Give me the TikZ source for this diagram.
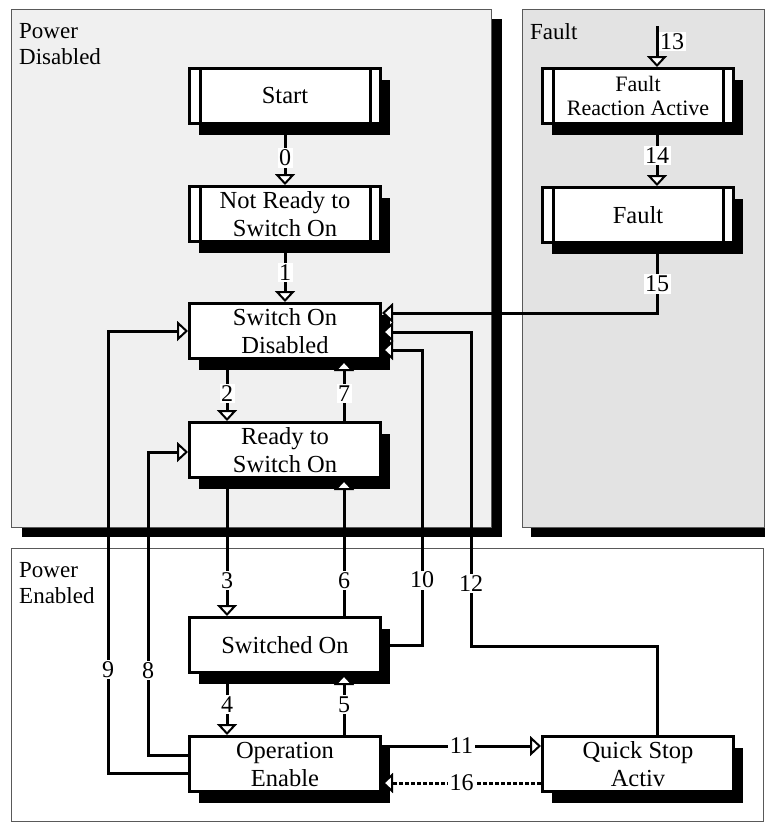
\documentclass[tikz,border=0pt]{standalone}
\usepackage{fontspec}
\setmainfont{Liberation Serif}
\usetikzlibrary{arrows.meta,shadows,positioning,calc}

\tikzset{
  statebox/.style={draw, line width=3pt, fill=white, minimum width=191pt, minimum height=55pt,
    inner sep=0pt, align=center, font=\fontsize{24.5}{28}\selectfont,
    drop shadow={shadow xshift=9pt, shadow yshift=-11pt, opacity=1, fill=black}},
  barbox/.style={statebox, path picture={
    \draw[line width=3pt] ([xshift=11pt]path picture bounding box.north west) -- ([xshift=11pt]path picture bounding box.south west)
      ([xshift=-10pt]path picture bounding box.north east) -- ([xshift=-10pt]path picture bounding box.south east);}},
  trans/.style={line width=3pt, -{Triangle[fill=white, length=11pt, width=20pt, line width=2pt]}},
  lbl/.style={fill=white, inner sep=1.5pt, font=\fontsize{24}{26}\selectfont},
  panel/.style={line width=0.8pt, draw=black!65},
  paneltext/.style={anchor=north west, align=left, inner sep=0pt, font=\fontsize{23}{26}\selectfont}
}

\begin{document}
\begin{tikzpicture}[x=1pt, y=-1pt]
    \useasboundingbox (0,0) rectangle (765,825);
    \clip (0,0) rectangle (765,825);
    % regions
    \path[panel, fill=black!6, drop shadow={shadow xshift=11pt, shadow yshift=-10pt, opacity=1, fill=black}] (11,9) rectangle (491,527);
    \path[panel, fill=black!11, drop shadow={shadow xshift=9pt, shadow yshift=-10pt, opacity=1, fill=black}] (522,9) rectangle (764,527);
    \path[panel, fill=white] (11,548) rectangle (763,821);
    \node[paneltext] (pdis) at (19,23) {Power\\Disabled};
    \node[paneltext] (pflt) at (530,23) {Fault};
    \node[paneltext] (pena) at (19,562) {Power\\Enabled};

    % states
    \node[barbox] (start) at (285,96) {Start};
    \node[barbox] (notready) at (285,214) {Not Ready to\\Switch On};
    \node[statebox] (sod) at (285,331) {Switch On\\Disabled};
    \node[statebox] (rtso) at (285,450) {Ready to\\Switch On};
    \node[statebox] (swon) at (285,645) {Switched On};
    \node[statebox] (opena) at (285,764) {Operation\\Enable};
    \node[statebox] (qstop) at (638,764) {Quick Stop\\Activ};
    \node[barbox, font=\fontsize{22}{24}\selectfont] (fra) at (638,96) {Fault\\Reaction Active};
    \node[barbox] (fault) at (638,215) {Fault};
    \coordinate (in13) at (657,26);

    % transitions
    \draw[trans] (start) -- node[lbl, pos=0.55]{0} (notready);
    \draw[trans] (notready) -- node[lbl]{1} (sod);
    \draw[trans] ([xshift=-58pt]sod.south) -- node[lbl, pos=0.55]{2} ([xshift=-58pt]rtso.north);
    \draw[trans] ([xshift=59pt]rtso.north) -- node[lbl, pos=0.45]{7} ([xshift=59pt]sod.south);
    \draw[trans] ([xshift=-58pt]rtso.south) -- node[lbl, pos=0.74]{3} ([xshift=-58pt]swon.north);
    \draw[trans] ([xshift=59pt]swon.north) -- node[lbl, pos=0.26]{6} ([xshift=59pt]rtso.south);
    \draw[trans] ([xshift=-58pt]swon.south) -- node[lbl]{4} ([xshift=-58pt]opena.north);
    \draw[trans] ([xshift=59pt]opena.north) -- node[lbl]{5} ([xshift=59pt]swon.south);
    \draw[trans] ([yshift=-9pt]opena.west) -- ++(-80,0) |- node[lbl, pos=0.117]{9} (sod.west);
    \draw[trans] ([yshift=9pt]opena.west) -- ++(-40,0) |- node[lbl, pos=0.14]{8} ([yshift=-2pt]rtso.west);
    \draw[trans] (swon.east) -- ++(40,0) |- node[lbl, pos=0.11]{10} ([yshift=-19pt]sod.east);
    \draw[trans] ([xshift=19pt]qstop.north) |- ++(-186,-89) |- node[lbl, pos=0.1]{12} ([yshift=-1pt]sod.east);
    \draw[trans] ([yshift=18pt]opena.east) -- node[lbl]{11} ([yshift=18pt]qstop.west);
    \draw[trans, dash pattern=on 4pt off 2pt] ([yshift=-19pt]qstop.west) -- node[lbl]{16} ([yshift=-19pt]opena.east);
    \draw[trans] (in13) -- node[lbl, right, pos=0.37]{13} ([xshift=19pt]fra.north);
    \draw[trans] ([xshift=19pt]fra.south) -- node[lbl]{14} ([xshift=19pt]fault.north);
    \draw[trans] ([xshift=19pt]fault.south) |- node[lbl, pos=0.29]{15} ([yshift=18pt]sod.east);
\end{tikzpicture}
\end{document}
